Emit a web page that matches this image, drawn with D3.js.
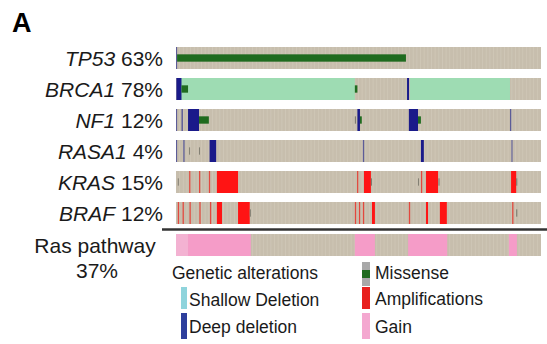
<!DOCTYPE html>
<html>
<head>
<meta charset="utf-8">
<script src="https://cdn.jsdelivr.net/npm/d3@7"></script>
<style>
  body { margin: 0; background: #fff; }
  text { font-family: "Liberation Sans", Arial, sans-serif; fill: #1a1a1a; }
</style>
</head>
<body>
<svg width="547" height="344"></svg>
<script>
// genes and their altered fraction
var genes = ["TP53", "BRCA1", "NF1", "RASA1", "KRAS", "BRAF"];
var percents = ["63%", "78%", "12%", "4%", "15%", "12%"];
var nSamples = 100;

// alterations per gene: [first sample, number of samples, type]
var tp53 = [[0, 0.3, "deep"], [0.3, 62.7, "mis"]];
var brca1 = [[1.1, 47.9, "shallow"], [64.1, 27.4, "shallow"], [0.1, 1.4, "deep"], [1.5, 1.8, "mis"],
  [49.0, 0.7, "mis"], [63.3, 0.55, "deep"]];
var nf1 = [[0, 0.3, "deep"], [1.5, 0.4, "deep"], [3.3, 3.0, "deep"], [6.3, 2.7, "mis"], [49.0, 0.3, "tick"],
  [49.7, 0.7, "deep"], [50.4, 0.5, "mis"], [63.8, 2.5, "deep"], [66.3, 0.8, "mis"], [91.5, 0.35, "deep"]];
var rasa1 = [[0, 0.3, "deep"], [2.0, 0.35, "deep"], [3.6, 0.25, "tick"], [6.3, 0.25, "tick"], [9.2, 1.8, "deep"],
  [51.2, 0.35, "deep"], [67.1, 0.8, "deep"], [91.9, 0.3, "deep"]];
var kras = [[0.5, 0.25, "tick"], [3.6, 0.35, "amp"], [6.3, 0.35, "amp"], [9.0, 0.35, "amp"], [11.2, 5.8, "amp"],
  [49.6, 0.35, "amp"], [51.5, 1.9, "amp"], [53.4, 0.3, "tick"], [66.3, 0.25, "tick"], [67.1, 0.35, "amp"],
  [68.5, 3.3, "amp"], [71.9, 0.3, "tick"], [91.8, 1.4, "amp"], [93.2, 0.3, "tick"]];
var braf = [[0.5, 0.35, "amp"], [1.8, 0.35, "amp"], [3.7, 0.35, "amp"], [6.4, 0.35, "amp"], [9.3, 0.35, "amp"],
  [11.2, 1.4, "amp"], [17.0, 3.2, "amp"], [20.2, 0.3, "tick"], [49.0, 0.35, "amp"], [50.1, 0.35, "amp"],
  [51.2, 0.35, "amp"], [53.7, 0.8, "amp"], [63.8, 0.35, "amp"], [68.5, 0.55, "amp"], [72.3, 1.9, "amp"],
  [92.1, 0.35, "amp"], [93.2, 0.3, "tick"]];
var rasPathway = [[0, 3.3, "gainLight"], [3.3, 17.2, "gain"], [49.0, 5.5, "gain"], [63.6, 10.7, "gain"], [91.2, 2.2, "gain"]];
var geneAlts = [tp53, brca1, nf1, rasa1, kras, braf];

// legend entries
var legendLabels = ["Shallow Deletion", "Deep deletion", "Missense", "Amplifications", "Gain"];

var colors = {
  deep: "#1a1a8a",
  shallow: "#9edcb3",
  mis: "#1f6b1f",
  amp: "#ff1414",
  gain: "#f59cc8",
  gainLight: "#f3b2d2",
  tick: "#7d7a6e",
  bg: "#c7bead"
};
// hairline marks look softer in the original
var thinColors = { deep: "#5c5c98", amp: "#e2483e", mis: "#2f6f2a", tick: "#7d7a6e" };
var legendColors = ["#8fd4dc", "#2e3f9c", "#1f6b1f", "#e8201e", "#f4a8d0"];

var svg = d3.select("svg");

var x = d3.scaleLinear().domain([0, nSamples]).range([176, 541]);
var y = d3.scaleBand().domain(genes).range([47, 47 + 6 * 31 - 9]).paddingInner(9 / 31);
var rowH = y.bandwidth();
var rasY = 234;

function markColor(d) {
  if (d[1] < 0.5 && thinColors[d[2]]) return thinColors[d[2]];
  return colors[d[2]];
}

// panel letter
svg.append("text").attr("x", 12).attr("y", 32)
  .style("font-size", "27px").style("font-weight", "bold").style("fill", "#000").text("A");

function drawRow(top, alts) {
  var g = svg.append("g").attr("transform", "translate(0," + top + ")");
  g.append("rect")
    .attr("x", x(0)).attr("y", 0)
    .attr("width", x(nSamples) - x(0)).attr("height", rowH)
    .attr("fill", colors.bg);
  // faint sample columns
  g.selectAll(".col").data(d3.range(1, nSamples)).enter().append("line")
    .attr("class", "col")
    .attr("x1", function(d) { return x(d); }).attr("x2", function(d) { return x(d); })
    .attr("y1", 0).attr("y2", rowH)
    .attr("stroke", "#d6cebf").attr("stroke-width", 0.7).attr("opacity", 0.75);
  // full height marks first, then small ones on top
  var full = alts.filter(function(d) { return d[2] !== "mis" && d[2] !== "tick"; });
  var small = alts.filter(function(d) { return d[2] === "mis" || d[2] === "tick"; });
  g.selectAll(".full").data(full).enter().append("rect")
    .attr("class", "full")
    .attr("x", function(d) { return x(d[0]); })
    .attr("y", 0)
    .attr("width", function(d) { return x(d[0] + d[1]) - x(d[0]); })
    .attr("height", rowH)
    .attr("fill", markColor);
  g.selectAll(".small").data(small).enter().append("rect")
    .attr("class", "small")
    .attr("x", function(d) { return x(d[0]); })
    .attr("y", rowH / 3)
    .attr("width", function(d) { return x(d[0] + d[1]) - x(d[0]); })
    .attr("height", rowH / 3)
    .attr("fill", markColor);
}

genes.forEach(function(gname, i) {
  drawRow(y(gname), geneAlts[i]);
  var t = svg.append("text")
    .attr("x", 163).attr("y", y(gname) + rowH / 2 + 8)
    .attr("text-anchor", "end")
    .style("font-size", "21px");
  t.append("tspan").style("font-style", "italic").text(gname);
  t.append("tspan").text(" " + percents[i]);
});

// divider above pathway row
svg.append("line")
  .attr("x1", 162).attr("x2", 547).attr("y1", 229.5).attr("y2", 229.5)
  .attr("stroke", "#333").attr("stroke-width", 2.5);

drawRow(rasY, rasPathway);
svg.append("text").attr("x", 95).attr("y", 253).attr("text-anchor", "middle")
  .style("font-size", "21px").text("Ras pathway");
svg.append("text").attr("x", 97).attr("y", 278).attr("text-anchor", "middle")
  .style("font-size", "21px").text("37%");

// legend
var lg = svg.append("g").style("font-size", "17.5px");
lg.append("text").attr("x", 172).attr("y", 279).text("Genetic alterations");

// left column: shallow, deep
lg.append("rect").attr("x", 181).attr("y", 287).attr("width", 6).attr("height", 22).attr("fill", legendColors[0]);
lg.append("text").attr("x", 189).attr("y", 306).text(legendLabels[0]);
lg.append("rect").attr("x", 181).attr("y", 313).attr("width", 6).attr("height", 26).attr("fill", legendColors[1]);
lg.append("text").attr("x", 189).attr("y", 333).text(legendLabels[1]);

// right column: missense, amp, gain
lg.append("rect").attr("x", 362).attr("y", 262).attr("width", 8).attr("height", 24).attr("fill", "#a8a8a8");
lg.append("rect").attr("x", 362).attr("y", 270).attr("width", 8).attr("height", 8).attr("fill", legendColors[2]);
lg.append("text").attr("x", 375).attr("y", 279).text(legendLabels[2]);
lg.append("rect").attr("x", 362).attr("y", 287).attr("width", 8).attr("height", 22).attr("fill", legendColors[3]);
lg.append("text").attr("x", 375).attr("y", 305).text(legendLabels[3]);
lg.append("rect").attr("x", 362).attr("y", 313).attr("width", 8).attr("height", 26).attr("fill", legendColors[4]);
lg.append("text").attr("x", 375).attr("y", 333).text(legendLabels[4]);
</script>
</body>
</html>
